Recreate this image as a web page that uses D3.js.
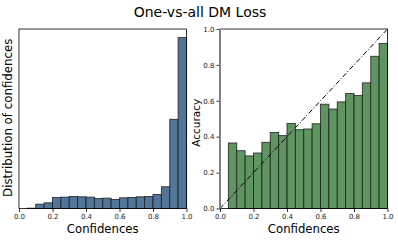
<!DOCTYPE html>
<html><head><meta charset="utf-8">
<script src="https://cdn.jsdelivr.net/npm/d3@7"></script>
<style>body{margin:0;background:#fff}svg{display:block;font-family:"DejaVu Sans",sans-serif}</style>
</head><body><svg id="c" width="398" height="241"></svg>
<script>
const title = "One-vs-all DM Loss";
const binEdges = d3.range(0, 20).map(i => i * 0.05);
const distValues = [0, 1, 13, 17, 33, 34, 36, 35, 34, 30, 31, 27, 32, 33, 35, 36, 42, 65, 267, 512];
const accValues = [0, 0.365, 0.322, 0.293, 0.309, 0.369, 0.424, 0.406, 0.474, 0.439, 0.443, 0.472, 0.581, 0.554, 0.594, 0.641, 0.630, 0.700, 0.848, 0.920];
const xTicks = [0, 0.2, 0.4, 0.6, 0.8, 1.0];
const yTicks = [0, 0.2, 0.4, 0.6, 0.8, 1.0];
const binW = 0.05;

const svg = d3.select("#c");
svg.append("text").attr("x", 200).attr("y", 17).attr("text-anchor", "middle")
  .attr("font-size", 14).attr("fill", "#000").text(title);

const plotTop = 29, plotBottom = 208.5;
function panel(x0, x1, values, ymax, color, showY) {
  const x = d3.scaleLinear().domain([0, 1]).range([x0, x1]);
  const y = d3.scaleLinear().domain([0, ymax]).range([plotBottom, plotTop]);
  const g = svg.append("g");
  g.selectAll("rect.b").data(values).enter().append("rect")
    .attr("x", (d, i) => x(binEdges[i]))
    .attr("width", (d, i) => x(binEdges[i] + binW) - x(binEdges[i]))
    .attr("y", d => y(d)).attr("height", d => plotBottom - y(d))
    .attr("fill", color).attr("stroke", "#1a1a1a").attr("stroke-width", 0.9)
    .attr("stroke-opacity", d => d > 0 ? 0.85 : 0);
  const xa = g.append("g").attr("transform", `translate(0,${plotBottom})`)
    .call(d3.axisBottom(x).tickValues(xTicks).tickFormat(d3.format(".1f")).tickSize(3.5).tickPadding(2.5));
  xa.select(".domain").remove();
  xa.selectAll("text").attr("font-size", 7).attr("font-family", "DejaVu Sans").attr("fill", "#222");
  xa.selectAll("line").attr("stroke", "#000").attr("stroke-width", 0.8);
  g.append("text").attr("x", (x0 + x1) / 2).attr("y", 233).attr("text-anchor", "middle")
    .attr("font-size", 11.7).text("Confidences");
  if (showY) {
    const ya = g.append("g").attr("transform", `translate(${x0},0)`)
      .call(d3.axisLeft(y).tickValues(yTicks).tickFormat(d3.format(".1f")).tickSize(3.5).tickPadding(2));
    ya.select(".domain").remove();
    ya.selectAll("text").attr("font-size", 7).attr("font-family", "DejaVu Sans").attr("fill", "#222");
    ya.selectAll("line").attr("stroke", "#000").attr("stroke-width", 0.8);
    g.append("line").attr("x1", x(0)).attr("y1", y(0)).attr("x2", x(1)).attr("y2", y(1))
      .attr("stroke", "#000").attr("stroke-width", 1).attr("stroke-dasharray", "5,2,1,2");
    g.append("text").attr("transform", `translate(${x0 - 20},${(plotTop + plotBottom) / 2 + 4}) rotate(-90)`)
      .attr("text-anchor", "middle").attr("font-size", 10.5).text("Accuracy");
  } else {
    g.append("text").attr("transform", `translate(${x0 - 7},${(plotTop + plotBottom) / 2 - 1}) rotate(-90)`)
      .attr("text-anchor", "middle").attr("font-size", 11.8).text("Distribution of confidences");
  }
  g.append("rect").attr("x", x0).attr("y", plotTop).attr("width", x1 - x0).attr("height", plotBottom - plotTop)
    .attr("fill", "none").attr("stroke", "#000").attr("stroke-width", 0.8);
  if (showY) {
    g.append("line").attr("x1", x0).attr("x2", x0).attr("y1", plotTop).attr("y2", plotBottom)
      .attr("stroke", "#808080").attr("stroke-width", 2);
  }
}
panel(19, 186.5, distValues, d3.max(distValues) * 1.05, "#51769a", false);
panel(220, 387.5, accValues, 1, "#5f9560", true);
</script></body></html>
